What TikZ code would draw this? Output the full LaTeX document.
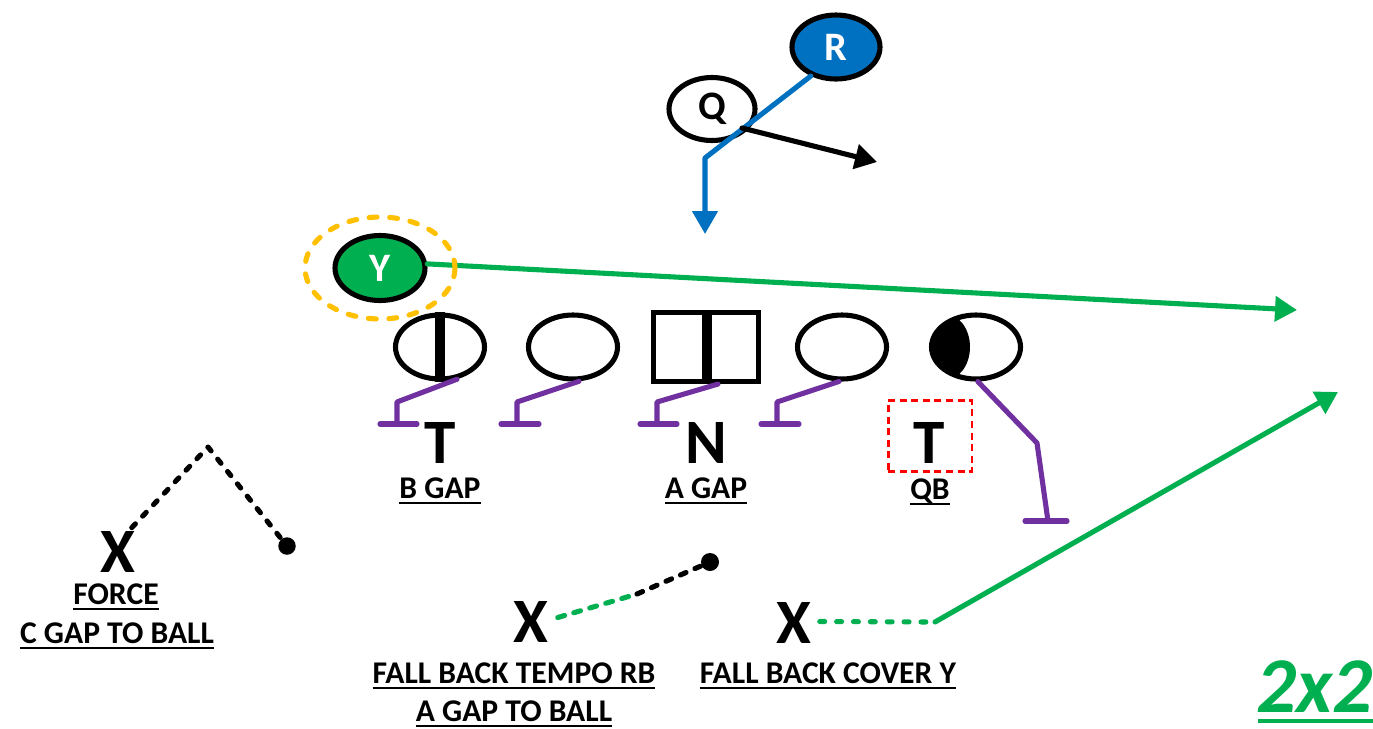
\documentclass[tikz,border=0pt]{standalone}
\usepackage{fontspec}
\setmainfont{Carlito}
\usetikzlibrary{shapes.geometric,arrows.meta,calc}
\definecolor{pblue}{HTML}{0070C0}
\definecolor{pgreen}{HTML}{00B050}
\definecolor{ppurple}{HTML}{7030A0}
\definecolor{porange}{HTML}{FFC000}
\definecolor{pred}{HTML}{FF0000}
% underlined label text
\newcommand\ulx[1]{\setbox0\hbox{#1}\rlap{\rule[-3.3pt]{\wd0}{1.2pt}}\box0}
\begin{document}
\begin{tikzpicture}[x=0.02cm,y=-0.02cm,
  player/.style={ellipse, draw=black, line width=2.9pt, inner sep=0pt,
    minimum width=1.78cm, minimum height=1.28cm},
  plfont/.style={font=\fontsize{23pt}{25pt}\selectfont\bfseries},
  lab/.style={font=\fontsize{18pt}{21.5pt}\selectfont\bfseries, anchor=base, inner sep=0pt},
  bigl/.style={font=\fontsize{36pt}{40pt}\selectfont\bfseries, anchor=base, inner sep=0pt},
  blk/.style={draw=ppurple, line width=2.9pt, line cap=round, line join=round},
  route/.style={line width=2.9pt, line cap=round, line join=round},
  tip/.style={-{Triangle[width=14pt,length=12.5pt]}},
  gdots/.style={route, draw=pgreen, dash pattern=on 2.8pt off 6.8pt},
  bdash/.style={route, draw=black, dash pattern=on 3pt off 6pt},
  ball/.style={circle, fill=black, inner sep=0pt, minimum size=0.35cm}
]
\useasboundingbox (0,0) rectangle (1373,728);
\fill[white] (0,0) rectangle (1373,728);

% ---- backfield ----
\node[player, fill=pblue, text=white, plfont, minimum width=1.76cm, minimum height=1.28cm] (R) at (836,47) {R};
\node[player, plfont, minimum width=1.72cm, minimum height=1.26cm] (Q) at (712,109) {Q};
\coordinate (rb) at (705,158);
\coordinate (rt) at (705,234);
\coordinate (qs) at (742,128);
\coordinate (qt) at (877,162);
\draw[route, draw=pblue, -{Triangle[width=14pt,length=13pt]}] (R.229) -- (rb) -- (rt);
\draw[route, draw=black, tip] (qs) -- (qt);

% ---- Y and its route ----
\node[player, fill=pgreen, text=white, plfont, minimum width=1.80cm, minimum height=1.30cm] (Y) at (380,268) {Y};
\coordinate (yt) at (1297,310);
\draw[route, draw=pgreen, tip] (Y.5) -- (yt);

% ---- line ----
\begin{scope}
  \clip (976,347) ellipse [x radius=0.89cm, y radius=0.64cm];
  \fill (900,300) rectangle (945,400);
  \fill (945,347) ellipse [x radius=0.5cm, y radius=0.66cm];
\end{scope}
\node[player] (l1) at (440,347) {};
\node[player] (l2) at (573,347) {};
\node[draw=black, line width=2.9pt, inner sep=0pt, minimum width=2.1cm, minimum height=1.38cm] (cn) at (706,347) {};
\node[player] (l4) at (842,347) {};
\node[player] (l5) at (976,347) {};
\draw[line width=5.6pt] (l1.north) -- (l1.south);
\draw[line width=5.6pt] ($(cn.north)+(1,0)$) -- ($(cn.south)+(1,0)$);

% ---- blocks ----
\coordinate (k1) at (397,402); \coordinate (b1) at (397,424);
\coordinate (k2) at (517,402); \coordinate (b2) at (517,424);
\coordinate (k3) at (657,402); \coordinate (b3) at (657,424);
\coordinate (k4) at (777,402); \coordinate (b4) at (777,424);
\coordinate (k5) at (1037,443); \coordinate (b5) at (1048,521);
\draw[blk] (l1.-62) -- (k1) -- (b1);
\draw[blk] ($(b1)+(-17,0)$) -- ($(b1)+(20,0)$);
\draw[blk] (l2.-80) -- (k2) -- (b2);
\draw[blk] ($(b2)+(-16,0)$) -- ($(b2)+(22,0)$);
\draw[blk] ($(cn.south)+(12,0)$) -- (k3) -- (b3);
\draw[blk] ($(b3)+(-17,0)$) -- ($(b3)+(20,0)$);
\draw[blk] (l4.-95) -- (k4) -- (b4);
\draw[blk] ($(b4)+(-16,0)$) -- ($(b4)+(22,0)$);
\draw[blk] (l5.-87) -- (k5) -- (b5);
\draw[blk] ($(b5)+(-23,0)$) -- ($(b5)+(19,0)$);

% ---- defenders up front ----
\node[bigl] (tl) at (440,463) {T};
\node[bigl] (nn) at (706,463) {N};
\node[bigl] (tr) at (929,463) {T};
\node[draw=pred, line width=1.7pt, dash pattern=on 4pt off 2.6pt, inner sep=0pt,
  minimum width=1.68cm, minimum height=1.42cm] (qbbox) at (930,436) {};
\node[lab] (bgap) at (440,498) {\ulx{B GAP}};
\node[lab] (agap) at (706,498) {\ulx{A GAP}};
\node[lab] (qb) at (930,499) {\ulx{QB}};

% ---- force player ----
\node[bigl] (xl) at (118,572) {X};
\node[ball] (ball1) at (287,546) {};
\coordinate (lk) at (208,447);
\draw[bdash] ($(xl.north east)+(-4,-3)$) -- (lk) -- (ball1);
\node[lab] (force) at (116,604) {\ulx{FORCE}};
\node[lab] (cgap) at (117,643) {\ulx{C GAP TO BALL}};

% ---- fall back players ----
\node[bigl] (xm) at (531,642) {X};
\node[ball, minimum size=0.36cm] (ball2) at (710,562) {};
\coordinate (mm) at (637,594);
\draw[route, draw=pgreen, dash pattern=on 4pt off 5.5pt] ($(xm.east)+(9,-4)$) -- (mm);
\draw[bdash, dash pattern=on 3.5pt off 5.5pt] (mm) -- (ball2);
\node[lab] (fbt) at (514,683) {\ulx{FALL BACK TEMPO RB}};
\node[lab] (agb) at (514,721) {\ulx{A GAP TO BALL}};

\node[bigl] (xr) at (794,643) {X};
\coordinate (gb) at (935,622);
\coordinate (gt) at (1338,392);
\draw[gdots] ($(xr.east)+(8,-1)$) -- (gb);
\draw[route, draw=pgreen, tip] (gb) -- (gt);
\node[lab] (fbc) at (828,683) {\ulx{FALL BACK COVER Y}};

% ---- highlight ring around Y ----
\node[ellipse, draw=porange, line width=2.9pt, line cap=round, dash pattern=on 4.5pt off 7.2pt,
  inner sep=0pt, minimum width=3.0cm, minimum height=2.04cm] (ring) at (380,268) {};

% ---- formation tag ----
\node[anchor=base west, inner sep=0pt, text=pgreen,
  font=\fontsize{45pt}{50pt}\selectfont\bfseries\itshape] (tag) at (1256,712) {2x2};
\draw[pgreen, line width=2.3pt] ($(tag.base west)+(2,9)$) -- ($(tag.base east)+(12,9)$);
\end{tikzpicture}
\end{document}
